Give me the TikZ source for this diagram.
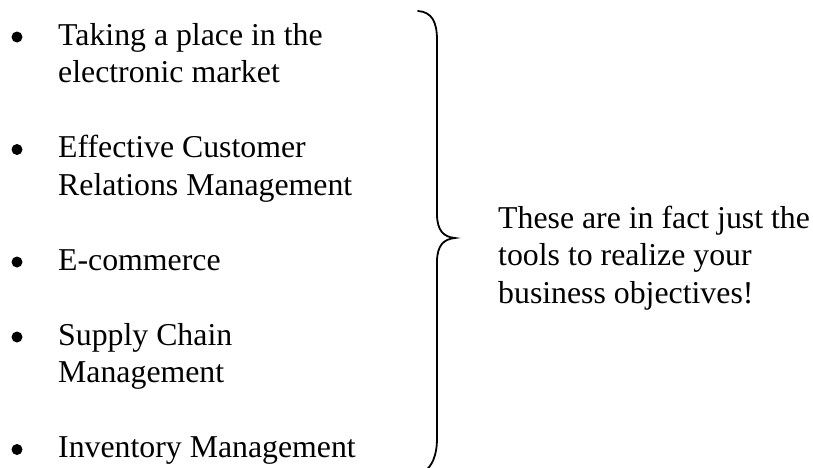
\documentclass[tikz,border=0pt]{standalone}
\usepackage{fontspec}
\setmainfont{Liberation Serif}
\begin{document}
\begin{tikzpicture}[x=1pt,y=-1pt,
  txt/.style={anchor=base west,inner sep=0pt,font=\fontsize{31.8}{37.5}\selectfont},
  bul/.style={circle,fill=black,inner sep=0pt,minimum size=11pt},
  brace/.style={line width=1.8pt,line cap=round}]
\useasboundingbox (0,0) rectangle (813,467);
% left items
\node[txt] (i1a) at (58,45) {Taking a place in the};
\node[txt] (i1b) at (58,82.5) {electronic market};
\node[txt] (i2a) at (58,157.5) {Effective Customer};
\node[txt] (i2b) at (58,195) {Relations Management};
\node[txt] (i3a) at (58,270) {E-commerce};
\node[txt] (i4a) at (58,345) {Supply Chain};
\node[txt] (i4b) at (58,382.5) {Management};
\node[txt] (i5a) at (58,457.5) {Inventory Management};
% bullets
\node[bul] (b1) at (17,37) {};
\node[bul] (b2) at (17,149.5) {};
\node[bul] (b3) at (17,262) {};
\node[bul] (b4) at (17,337) {};
\node[bul] (b5) at (17,449.5) {};
% brace
\draw[brace] (418,11) .. controls (432,12) and (437,22) .. (437,40)
  -- (437,214) .. controls (437,231) and (444,237) .. (455,238)
  .. controls (444,239) and (437,245) .. (437,262)
  -- (437,438) .. controls (437,456) and (432,466) .. (424,472);
% right text
\node[txt] (r1) at (498,228) {These are in fact just the};
\node[txt] (r2) at (498,265.5) {tools to realize your};
\node[txt] (r3) at (498,303) {business objectives!};
\end{tikzpicture}
\end{document}
